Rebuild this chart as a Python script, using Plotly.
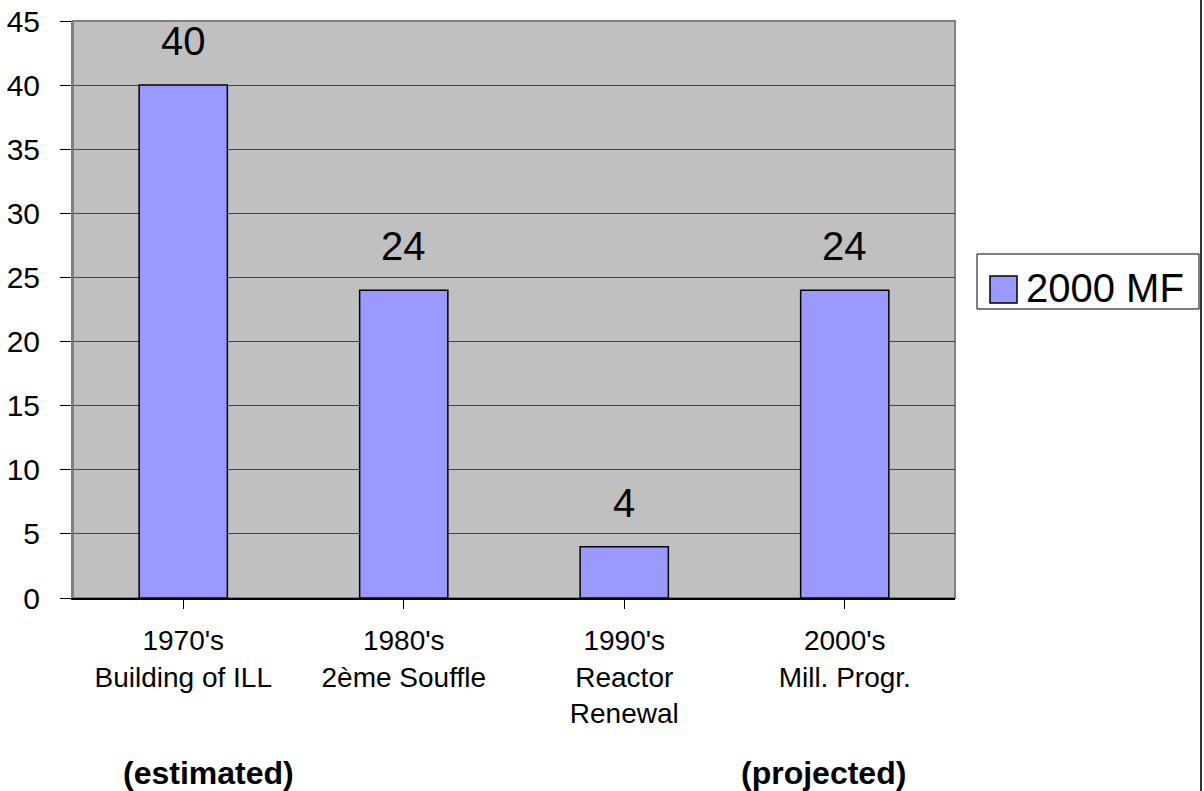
import plotly.graph_objects as go

# Chart data
categories = ["1970's<br>Building of ILL", "1980's<br>2ème Souffle",
              "1990's<br>Reactor<br>Renewal", "2000's<br>Mill. Progr."]
values = [40, 24, 4, 24]
series_name = "2000 MF"
notes = ["(estimated)", "(projected)"]
y_ticks = [0, 5, 10, 15, 20, 25, 30, 35, 40, 45]

FONT = "Arial, Liberation Sans, sans-serif"
W, H = 1204, 791
L, R, T, B = 73, 249, 21, 193
PW, PH = W - L - R, H - T - B


def px(x):
    return (x - L) / PW


def py(y):
    return (H - B - y) / PH


fig = go.Figure()
fig.add_trace(go.Bar(
    x=list(range(len(categories))), y=values, name=series_name,
    width=0.4, marker=dict(color="#9999FF", line=dict(color="black", width=1.5)),
    showlegend=False, hoverinfo="skip",
))

# value labels above each bar
for i, v in enumerate(values):
    fig.add_annotation(x=i, y=v, text=str(v), showarrow=False, yanchor="bottom",
                       yshift=20, font=dict(family=FONT, size=40, color="black"))

# notes below the category labels
for xpos, t in zip([208, 823], notes):
    fig.add_annotation(x=px(xpos), xref="paper", y=py(773), yref="paper",
                       text=f"<b>{t}</b>", showarrow=False,
                       xanchor="center", yanchor="middle",
                       font=dict(family=FONT, size=32, color="black"))

# legend box
fig.add_shape(type="rect", xref="paper", yref="paper", x0=px(977), x1=px(1199),
              y0=py(309), y1=py(254), line=dict(color="black", width=1), fillcolor="white")
fig.add_shape(type="rect", xref="paper", yref="paper", x0=px(990), x1=px(1017),
              y0=py(303), y1=py(276), line=dict(color="black", width=1.5), fillcolor="#9999FF")
fig.add_annotation(xref="paper", yref="paper", x=px(1024), y=py(288), text=series_name,
                   showarrow=False, xanchor="left", yanchor="middle",
                   font=dict(family=FONT, size=40, color="black"))

# plot-area frame and page edge
fig.add_shape(type="rect", xref="paper", yref="paper", x0=0, x1=1, y0=0, y1=1,
              line=dict(color="#808080", width=2), layer="below")
fig.add_shape(type="line", xref="paper", yref="paper", x0=px(1201), x1=px(1201),
              y0=py(0), y1=py(791), line=dict(color="#333333", width=2))

fig.update_layout(
    width=W, height=H, margin=dict(l=L, r=R, t=T, b=B, autoexpand=False),
    paper_bgcolor="white", plot_bgcolor="#C0C0C0",
    font=dict(family=FONT, color="black"),
    xaxis=dict(
        tickmode="array", tickvals=list(range(len(categories))), ticktext=categories,
        range=[-0.5, len(categories) - 0.5], tickson="boundaries",
        ticks="outside", ticklen=9, tickcolor="black", tickwidth=1,
        showline=True, linecolor="black", linewidth=1.5,
        showgrid=False, zeroline=False, tickfont=dict(size=28),
        ticklabelstandoff=8, automargin=False,
    ),
    yaxis=dict(
        range=[0, 45], tickvals=y_ticks, ticks="outside", ticklen=11,
        tickcolor="black", tickwidth=1, showline=True, linecolor="#808080", linewidth=2,
        showgrid=True, gridcolor="#444444", gridwidth=1, zeroline=False,
        tickfont=dict(size=30), ticklabelstandoff=14, automargin=False,
    ),
)

fig.write_html("out.html")
